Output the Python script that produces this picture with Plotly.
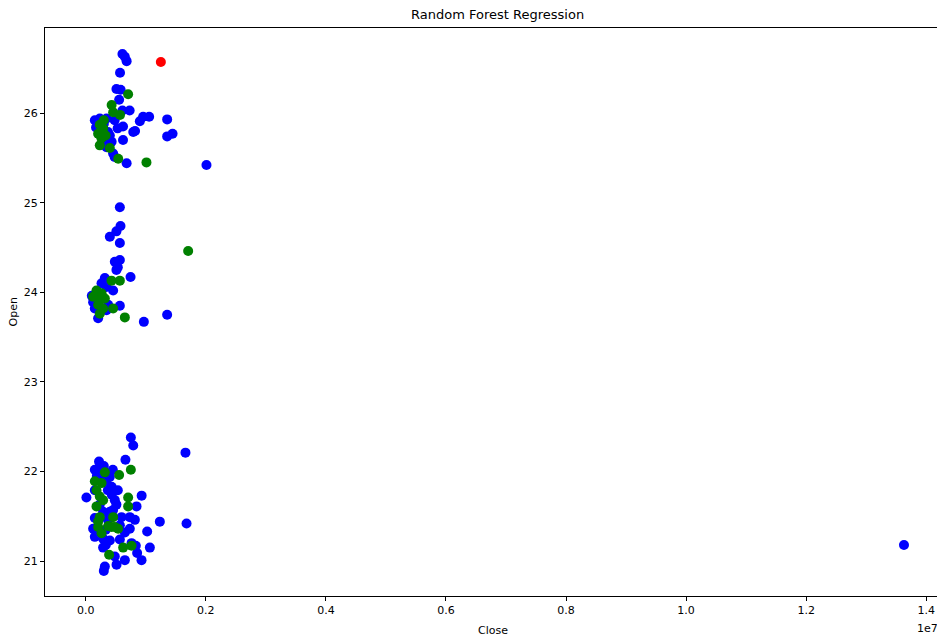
import plotly.graph_objects as go

# Training points (blue): Close, Open
train_close = [
    0.61e6, 0.65e6, 0.68e6, 0.57e6, 0.51e6, 0.58e6, 0.555e6, 0.61e6, 0.73e6, 0.955e6,
    1.055e6, 0.90e6, 0.15e6, 0.233e6, 0.345e6, 0.62e6, 0.79e6, 0.62e6, 0.40e6, 0.345e6,
    0.455e6, 0.48e6, 0.68e6, 1.355e6, 1.355e6, 1.445e6, 2.01e6, 0.82e6, 0.20e6, 0.30e6,
    0.27e6, 0.37e6, 0.32e6, 0.43e6, 0.53e6, 0.48e6, 0.17e6,
    0.567e6, 0.578e6, 0.51e6, 0.40e6, 0.567e6, 0.567e6, 0.483e6, 0.533e6, 0.51e6, 0.745e6,
    0.317e6, 0.262e6, 0.345e6, 0.455e6, 0.567e6, 0.967e6, 1.355e6, 0.205e6, 0.122e6, 0.15e6,
    0.345e6, 0.372e6, 0.10e6, 0.18e6,
    0.75e6, 0.79e6, 1.66e6, 0.66e6, 0.22e6, 0.15e6, 0.205e6, 0.40e6, 0.43e6, 0.345e6,
    0.01e6, 0.93e6, 0.845e6, 0.483e6, 0.51e6, 0.595e6, 0.733e6, 0.817e6, 1.233e6, 1.678e6,
    0.733e6, 1.022e6, 0.15e6, 0.40e6, 0.567e6, 0.762e6, 0.833e6, 1.067e6, 0.288e6, 0.855e6,
    0.928e6, 0.483e6, 0.65e6, 0.512e6, 0.317e6, 0.30e6, 0.15e6, 0.122e6, 0.288e6, 0.455e6,
    0.288e6, 0.15e6, 0.317e6, 0.433e6, 0.367e6, 0.333e6, 0.183e6, 0.30e6, 0.45e6, 0.367e6,
    0.533e6, 0.40e6, 0.233e6, 0.333e6, 0.567e6, 0.65e6,
    13.63e6,
]
train_open = [
    26.66, 26.63, 26.58, 26.45, 26.27, 26.26, 26.15, 26.03, 26.03, 25.96,
    25.96, 25.91, 25.92, 25.94, 25.94, 25.85, 25.79, 25.70, 25.75, 25.62,
    25.55, 25.51, 25.44, 25.93, 25.74, 25.77, 25.42, 25.80, 25.90, 25.88,
    25.81, 25.79, 25.70, 25.68, 25.83, 25.92, 25.84,
    24.95, 24.74, 24.68, 24.62, 24.55, 24.36, 24.34, 24.28, 24.25, 24.17,
    24.16, 24.10, 24.06, 24.02, 23.85, 23.67, 23.75, 23.71, 23.89, 23.82,
    23.80, 23.86, 23.96, 23.99,
    22.38, 22.29, 22.21, 22.13, 22.11, 22.02, 22.03, 21.94, 21.83, 21.87,
    21.71, 21.73, 21.61, 21.68, 21.63, 21.49, 21.49, 21.46, 21.44, 21.42,
    21.36, 21.33, 21.27, 21.23, 21.24, 21.20, 21.17, 21.15, 21.15, 21.09,
    21.01, 21.05, 21.01, 20.96, 20.94, 20.89, 21.48, 21.36, 21.55, 21.57,
    21.25, 21.79, 21.93, 21.74, 21.46, 21.35, 21.95, 22.06, 22.02, 21.79,
    21.79, 21.55, 21.63, 21.18, 21.40, 21.32,
    21.18,
]

# Test points (green)
test_close = [
    0.705e6, 0.43e6, 0.455e6, 0.57e6, 0.233e6, 0.29e6, 0.205e6, 0.26e6, 0.233e6, 0.40e6,
    0.54e6, 1.01e6, 0.30e6, 0.33e6,
    1.705e6, 0.428e6, 0.567e6, 0.178e6, 0.262e6, 0.122e6, 0.233e6, 0.317e6, 0.205e6, 0.288e6,
    0.233e6, 0.455e6, 0.65e6,
    0.317e6, 0.555e6, 0.75e6, 0.15e6, 0.262e6, 0.178e6, 0.233e6, 0.288e6, 0.178e6, 0.233e6,
    0.205e6, 0.262e6, 0.705e6, 0.705e6, 0.455e6, 0.483e6, 0.372e6, 0.622e6, 0.762e6, 0.388e6,
    0.205e6, 0.428e6, 0.538e6,
]
test_open = [
    26.21, 26.09, 26.01, 25.98, 25.87, 25.83, 25.77, 25.72, 25.64, 25.61,
    25.49, 25.45, 25.92, 25.75,
    24.46, 24.13, 24.13, 24.02, 23.99, 23.95, 23.91, 23.93, 23.86, 23.82,
    23.76, 23.82, 23.72,
    21.99, 21.96, 22.02, 21.89, 21.87, 21.79, 21.72, 21.68, 21.61, 21.49,
    21.38, 21.31, 21.71, 21.61, 21.49, 21.38, 21.39, 21.15, 21.17, 21.07,
    21.44, 21.38, 21.36,
]

# Highlighted prediction (red)
pred_close = [1.25e6]
pred_open = [26.57]

x_tickvals = [0, 2e6, 4e6, 6e6, 8e6, 10e6, 12e6, 14e6]
x_ticktext = ["0.0", "0.2", "0.4", "0.6", "0.8", "1.0", "1.2", "1.4"]
y_tickvals = [21, 22, 23, 24, 25, 26]

FONT = "DejaVu Sans"

fig = go.Figure()
fig.add_trace(go.Scatter(x=train_close, y=train_open, mode="markers",
                         marker=dict(color="blue", size=10, line=dict(width=0)),
                         showlegend=False))
fig.add_trace(go.Scatter(x=test_close, y=test_open, mode="markers",
                         marker=dict(color="green", size=10, line=dict(width=0)),
                         showlegend=False))
fig.add_trace(go.Scatter(x=pred_close, y=pred_open, mode="markers",
                         marker=dict(color="red", size=10, line=dict(width=0)),
                         showlegend=False))

axis_common = dict(showgrid=False, zeroline=False, showline=True, mirror=True,
                   linecolor="black", linewidth=1, ticks="outside", ticklen=4,
                   tickcolor="black", tickfont=dict(family=FONT, size=11, color="black"))

# The page adds an 8px body margin, so the figure is sized/offset to compensate
fig.update_layout(
    width=937, height=634,
    margin=dict(l=37, r=5, t=20, b=46),
    paper_bgcolor="white", plot_bgcolor="white",
    font=dict(family=FONT, color="black"),
    title=dict(text="Random Forest Regression", x=0.5225, xanchor="center",
               y=0.99, yanchor="middle", font=dict(family=FONT, size=13, color="black")),
    xaxis=dict(range=[-0.68e6, 14.23e6], tickvals=x_tickvals, ticktext=x_ticktext,
               automargin=False, **axis_common),
    yaxis=dict(range=[20.61, 26.95], tickvals=y_tickvals, automargin=False, **axis_common),
    annotations=[
        dict(text="Close", xref="paper", yref="paper", x=0.5, y=0, xanchor="center",
             yanchor="top", yshift=-26, showarrow=False, font=dict(family=FONT, size=11)),
        dict(text="Open", xref="paper", yref="paper", x=0, y=0.5, xanchor="right",
             yanchor="middle", xshift=-24, textangle=-90, showarrow=False,
             font=dict(family=FONT, size=11)),
        dict(text="1e7", xref="paper", yref="paper", x=1, y=0, xanchor="right",
             yanchor="top", yshift=-24, xshift=0, showarrow=False,
             font=dict(family=FONT, size=11)),
    ],
)

fig.write_html("out.html")
